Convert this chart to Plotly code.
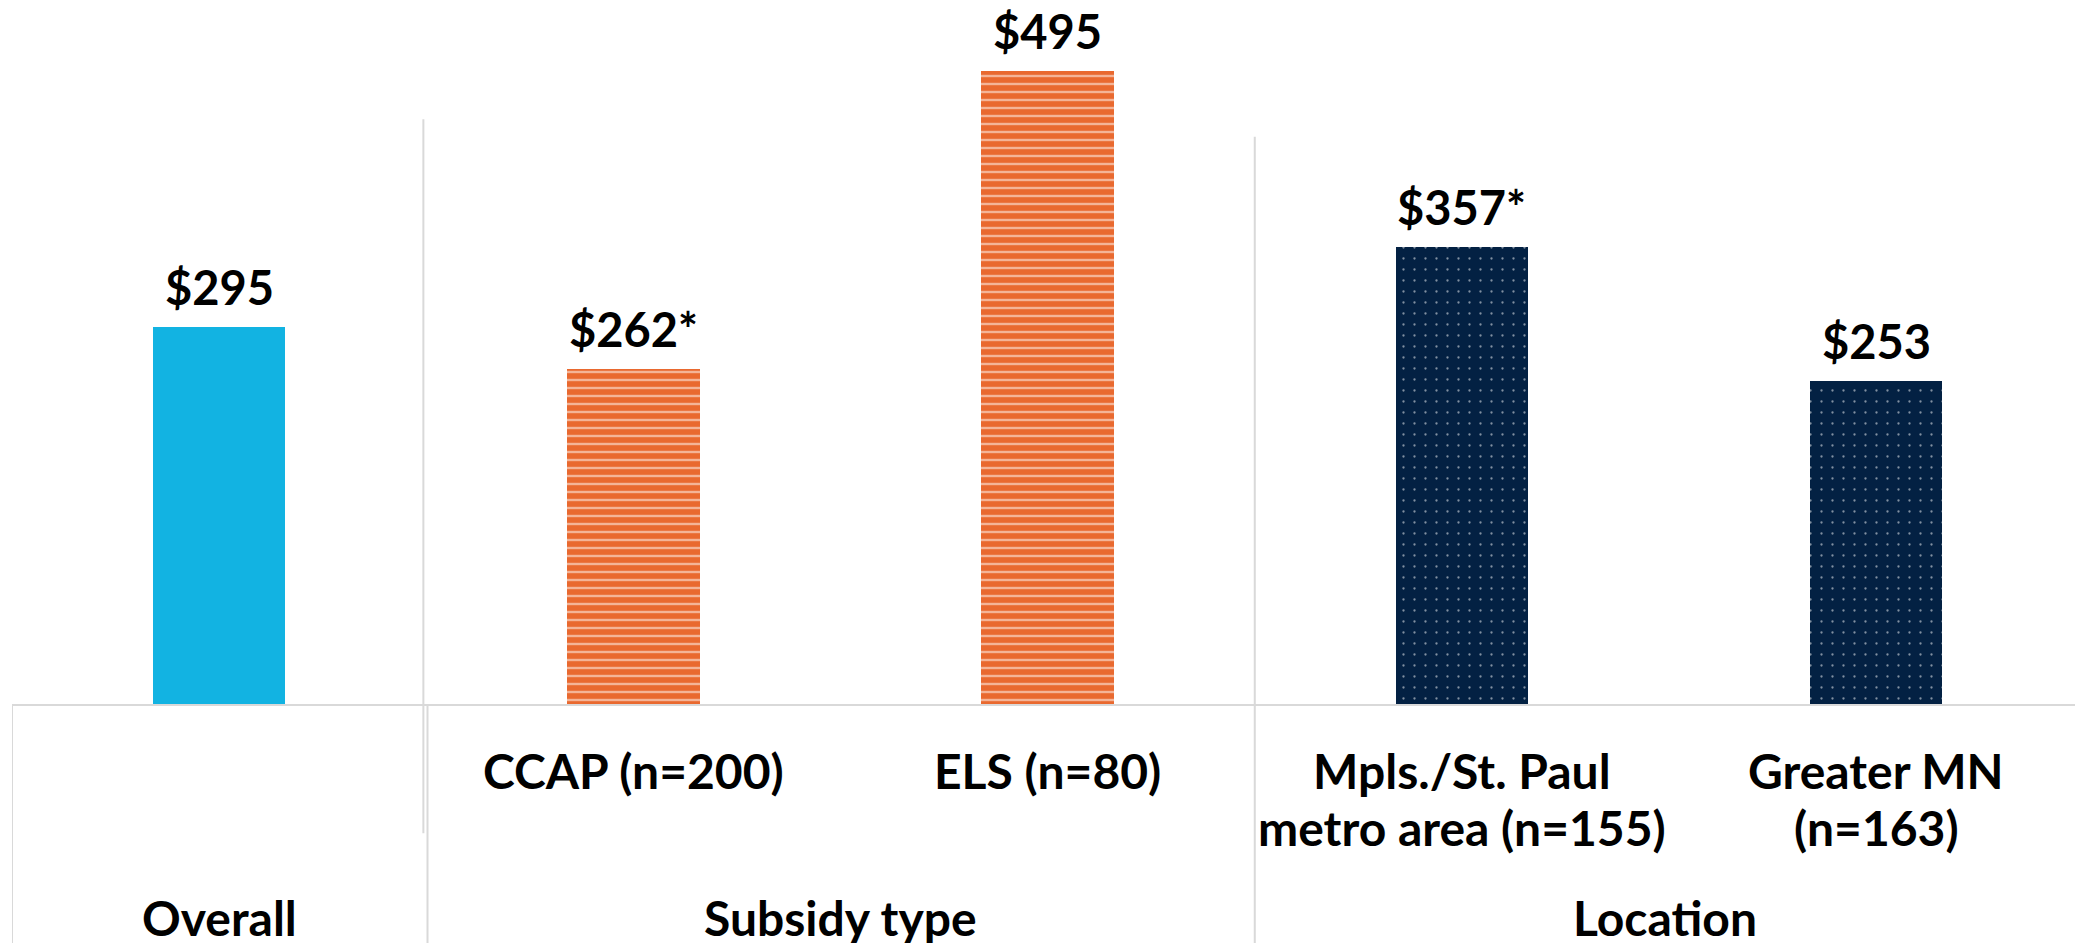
import plotly.graph_objects as go

# ---- data ----
categories = ["Overall", "CCAP (n=200)", "ELS (n=80)",
              "Mpls./St. Paul metro area (n=155)", "Greater MN (n=163)"]
label_lines = [[], ["CCAP (n=200)"], ["ELS (n=80)"],
               ["Mpls./St. Paul", "metro area (n=155)"], ["Greater MN", "(n=163)"]]
values = [295, 262, 495, 357, 253]
value_labels = ["$295", "$262*", "$495", "$357*", "$253"]
groups = ["Overall", "Subsidy type", "Location"]
group_members = [[0], [1, 2], [3, 4]]

# ---- styles ----
BLUE = "#12B3E2"
ORANGE = "#E9692F"
NAVY = "#032143"
GRID = "#D9D9D9"
FONT = "Lato"

xs = list(range(len(categories)))
X_MIN, X_MAX = -0.5, 4.48

fig = go.Figure()

stripe = dict(shape="-", fgcolor="white", bgcolor=ORANGE, size=8, solidity=0.3)
dots = dict(shape=".", fgcolor="white", bgcolor=NAVY, size=11, solidity=0.035)
styles = [
    dict(color=BLUE),
    dict(color=ORANGE, pattern=stripe),
    dict(color=ORANGE, pattern=stripe),
    dict(color=NAVY, pattern=dots),
    dict(color=NAVY, pattern=dots),
]

for i, (x, v) in enumerate(zip(xs, values)):
    fig.add_trace(go.Bar(
        x=[x], y=[v], width=0.32,
        marker=dict(line=dict(width=0), **styles[i]),
        hoverinfo="skip", showlegend=False,
    ))

annotations = []
# value labels
for x, v, t in zip(xs, values, value_labels):
    annotations.append(dict(x=x, y=v, xref="x", yref="y", text=t, showarrow=False,
                            yanchor="middle", yshift=40,
                            font=dict(family=FONT, size=47, color="black", weight="bold")))
# category labels
for x, lines in zip(xs, label_lines):
    for j, line in enumerate(lines):
        annotations.append(dict(x=x, y=0, xref="x", yref="paper", text=line, showarrow=False,
                                yanchor="middle", yshift=-65 - 57 * j,
                                font=dict(family=FONT, size=48, color="black", weight="bold")))
# group labels
for g, members in zip(groups, group_members):
    lo = max(min(members) - 0.5, X_MIN)
    hi = min(max(members) + 0.5, X_MAX)
    annotations.append(dict(x=(lo + hi) / 2, y=0, xref="x", yref="paper", text=g, showarrow=False,
                            yanchor="middle", yshift=-212,
                            font=dict(family=FONT, size=48, color="black", weight="bold")))

shapes = [
    # baseline
    dict(type="line", xref="paper", yref="paper", x0=0, x1=1, y0=0, y1=0,
         line=dict(color=GRID, width=2)),
    # left box edge
    dict(type="line", xref="x", yref="paper", x0=X_MIN, x1=X_MIN, y0=0, y1=-0.36,
         line=dict(color=GRID, width=2)),
    # separator between Overall and Subsidy type
    dict(type="line", xref="x", yref="paper", x0=0.493, x1=0.493, y0=0.831, y1=-0.182,
         line=dict(color=GRID, width=2)),
    dict(type="line", xref="x", yref="paper", x0=0.503, x1=0.503, y0=0, y1=-0.36,
         line=dict(color=GRID, width=2)),
    # separator between Subsidy type and Location
    dict(type="line", xref="x", yref="paper", x0=2.5, x1=2.5, y0=0.806, y1=-0.36,
         line=dict(color=GRID, width=2)),
]

fig.update_layout(
    width=2075, height=943,
    margin=dict(l=12, r=0, t=0, b=238),
    plot_bgcolor="white", paper_bgcolor="white",
    bargap=0,
    xaxis=dict(range=[X_MIN, X_MAX], showticklabels=False, showgrid=False,
               zeroline=False, showline=False, ticks=""),
    yaxis=dict(range=[0, 550], showticklabels=False, showgrid=False,
               zeroline=False, showline=False, ticks=""),
    annotations=annotations,
    shapes=shapes,
    font=dict(family=FONT),
)

fig.write_html("out.html", config={"displayModeBar": False},
               post_script="document.body.style.margin='0';")
